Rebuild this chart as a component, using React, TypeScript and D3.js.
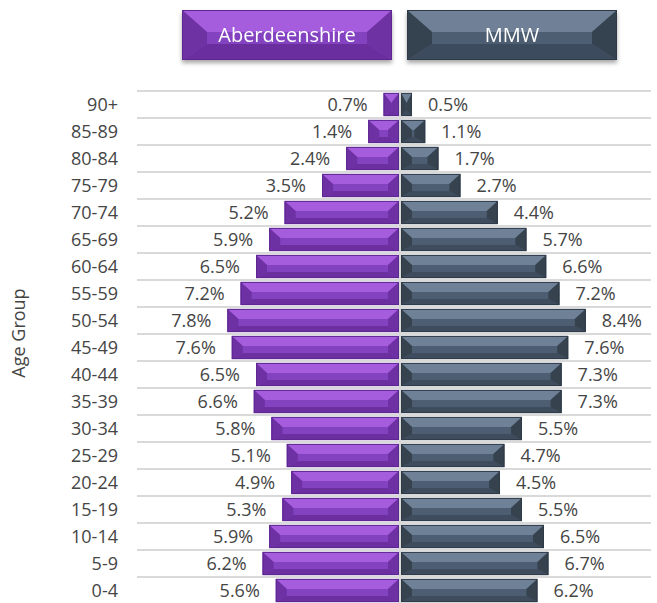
import React from "react";
import * as d3 from "d3";

const ageGroups = ["90+", "85-89", "80-84", "75-79", "70-74", "65-69", "60-64", "55-59", "50-54", "45-49", "40-44", "35-39", "30-34", "25-29", "20-24", "15-19", "10-14", "5-9", "0-4"];
const aberdeenshire = [0.7, 1.4, 2.4, 3.5, 5.2, 5.9, 6.5, 7.2, 7.8, 7.6, 6.5, 6.6, 5.8, 5.1, 4.9, 5.3, 5.9, 6.2, 5.6];
const mmw = [0.5, 1.1, 1.7, 2.7, 4.4, 5.7, 6.6, 7.2, 8.4, 7.6, 7.3, 7.3, 5.5, 4.7, 4.5, 5.5, 6.5, 6.7, 6.2];
const seriesNames = ["Aberdeenshire", "MMW"];

const width = 657;
const height = 603;
const center = 400;
const font = "'Open Sans', sans-serif";
const textColor = "#454545";

const palettes = [
  { top: "#a65ddd", mid: "#8342bf", bottom: "#6b2f9f", side: "#6e31a3", edge: "#5d2790" },
  { top: "#6f8197", mid: "#4d5d72", bottom: "#3e4c5e", side: "#36434f", edge: "#2f3a47" },
];

type Pal = typeof palettes[0];

function Bevel({ x0, y0, x1, y1, dx, dyt, dyb, pal }: { x0: number; y0: number; x1: number; y1: number; dx: number; dyt: number; dyb: number; pal: Pal }) {
  const w = x1 - x0;
  const d = Math.min(dx, w / 2);
  const p = (pts: number[][]) => pts.map(q => q.join(",")).join(" ");
  return (
    <g>
      <rect x={x0} y={y0} width={w} height={y1 - y0} fill={pal.mid} />
      <polygon points={p([[x0, y0], [x1, y0], [x1 - d, y0 + dyt], [x0 + d, y0 + dyt]])} fill={pal.top} />
      <polygon points={p([[x0, y1], [x1, y1], [x1 - d, y1 - dyb], [x0 + d, y1 - dyb]])} fill={pal.bottom} />
      <polygon points={p([[x0, y0], [x0 + d, y0 + dyt], [x0 + d, y1 - dyb], [x0, y1]])} fill={pal.side} />
      <polygon points={p([[x1, y0], [x1 - d, y0 + dyt], [x1 - d, y1 - dyb], [x1, y1]])} fill={pal.side} />
      <rect x={x0 + 0.5} y={y0 + 0.5} width={Math.max(0, w - 1)} height={y1 - y0 - 1} fill="none" stroke={pal.edge} strokeWidth={1} />
    </g>
  );
}

export default function App() {
  const y = d3.scaleBand<string>().domain(ageGroups).range([91, 604]).paddingInner(0.14).paddingOuter(0.07);
  const xR = d3.scaleLinear().domain([0, 10]).range([center + 1, center + 221]);
  const xL = d3.scaleLinear().domain([0, 10]).range([center - 1, center - 221]);
  const step = y.step();
  const gridYs = ageGroups.map((_, i) => 91 + i * step);
  const bh = y.bandwidth();

  return (
    <svg width={width} height={height} style={{ position: "absolute", left: 0, top: 0, background: "#fff" }} fontFamily={font}>
      <defs>
        <filter id="shadow" x="-10%" y="-20%" width="120%" height="160%">
          <feDropShadow dx="0" dy="3" stdDeviation="2" floodColor="#000" floodOpacity="0.35" />
        </filter>
      </defs>

      {/* legend */}
      {seriesNames.map((name, i) => {
        const x0 = i === 0 ? 182 : 407;
        return (
          <g key={name} filter="url(#shadow)">
            <Bevel x0={x0} y0={10} x1={x0 + 210} y1={60} dx={25} dyt={22} dyb={16} pal={palettes[i]} />
            <text x={x0 + 105} y={35} dy="0.35em" textAnchor="middle" fill="#fff" fontSize={20}>{name}</text>
          </g>
        );
      })}

      {/* gridlines */}
      {gridYs.map((gy, i) => (
        <line key={i} x1={137} x2={651} y1={gy} y2={gy} stroke="#d9d9d9" strokeWidth={2} />
      ))}

      {/* bars */}
      {ageGroups.map((g, i) => {
        const top = (y(g) as number);
        return (
          <g key={g}>
            <Bevel x0={xL(aberdeenshire[i])} y0={top} x1={xL(0)} y1={top + bh} dx={11} dyt={10} dyb={6} pal={palettes[0]} />
            <Bevel x0={xR(0)} y0={top} x1={xR(mmw[i])} y1={top + bh} dx={11} dyt={10} dyb={6} pal={palettes[1]} />
            <text x={xL(aberdeenshire[i]) - 16} y={top + bh / 2} dy="0.36em" textAnchor="end" fill={textColor} fontSize={18}>
              {aberdeenshire[i].toFixed(1)}%
            </text>
            <text x={xR(mmw[i]) + 16} y={top + bh / 2} dy="0.36em" textAnchor="start" fill={textColor} fontSize={18}>
              {mmw[i].toFixed(1)}%
            </text>
            <text x={118} y={top + bh / 2} dy="0.36em" textAnchor="end" fill={textColor} fontSize={18}>{g}</text>
          </g>
        );
      })}

      {/* center line */}
      <line x1={center} x2={center} y1={91} y2={604} stroke="#d9d9d9" strokeWidth={2} />

      <text transform="translate(25,333) rotate(-90)" textAnchor="middle" fill={textColor} fontSize={18}>Age Group</text>
    </svg>
  );
}
